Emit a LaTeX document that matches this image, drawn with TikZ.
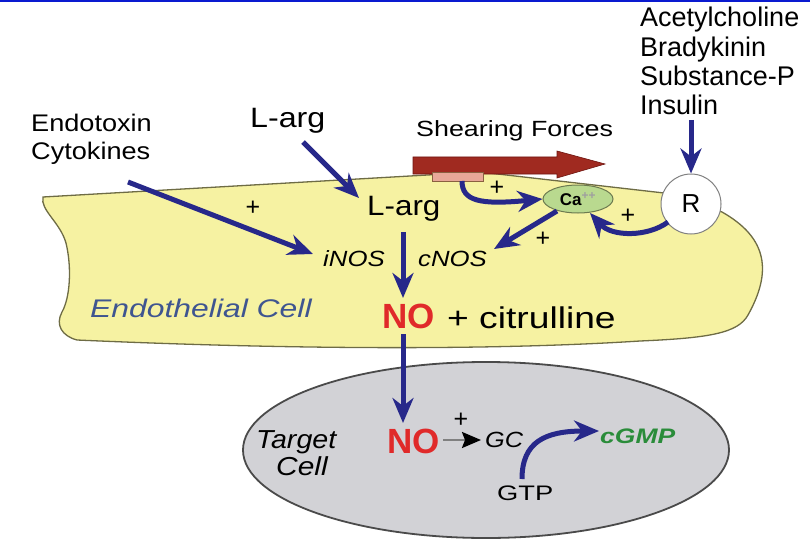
\documentclass[tikz,border=0pt]{standalone}
\usepackage{fontspec}
\setmainfont{Liberation Sans}
\usepackage{graphicx}
\usetikzlibrary{arrows.meta,shapes.geometric}
\newcommand{\fs}[1]{\fontsize{#1}{#1}\selectfont}
\newcommand{\sx}[2]{\scalebox{#1}[1]{#2}}
\definecolor{topblue}{HTML}{0A1AD0}
\definecolor{arrowblue}{HTML}{27288A}
\definecolor{cellyellow}{HTML}{F6F2A2}
\definecolor{cellborder}{HTML}{6E6C45}
\definecolor{targetfill}{HTML}{D2D2D6}
\definecolor{targetborder}{HTML}{4A4A4A}
\definecolor{nored}{HTML}{E02A2A}
\definecolor{cgmpgreen}{HTML}{2A8C3A}
\definecolor{endoblue}{HTML}{3F5590}
\definecolor{cafill}{HTML}{B9D98F}
\definecolor{caborder}{HTML}{6C7A50}
\definecolor{shearred}{HTML}{A02A20}
\definecolor{sheardark}{HTML}{6E1510}
\definecolor{pinkrect}{HTML}{E8A898}
\definecolor{pinkborder}{HTML}{8A6040}
\begin{document}
\begin{tikzpicture}[x=1pt,y=-1pt,
  txt/.style={inner sep=0pt, anchor=base west},
  plus/.style={inner sep=0pt, anchor=center, font=\fs{25}},
  flow/.style={draw=arrowblue, line width=5pt, -{Stealth[length=25pt,width=21pt,inset=8pt]}}]
\useasboundingbox (0,0) rectangle (810,540);
\fill[topblue] (0,0) rectangle (810,2.5);

% target cell
\node[ellipse, draw=targetborder, fill=targetfill, line width=1.8pt,
      minimum width=486pt, minimum height=176pt, inner sep=0pt] (tc) at (486,450) {};

% endothelial cell
\draw[draw=cellborder, fill=cellyellow, line width=1.3pt]
  (43,197) -- (480,172) -- (664,193) -- (722,212)
  .. controls (768,238) and (772,272) .. (748,315)
  .. controls (738,333) and (710,338) .. (640,341)
  .. controls (500,350) and (300,350) .. (77,340)
  .. controls (62,336) and (55,325) .. (62,312)
  .. controls (70,298) and (72,268) .. (66,243)
  .. controls (60,222) and (40,210) .. cycle;

% shearing force arrow
\draw[draw=sheardark, fill=shearred, line width=0.6pt]
  (413,157) -- (557,157) -- (557,151) -- (605,164) -- (557,178) -- (557,174) -- (413,174) -- cycle;
\node[draw=pinkborder, fill=pinkrect, line width=0.8pt, minimum width=51pt, minimum height=9pt, inner sep=0pt] (shear) at (457.5,176.5) {};

% nodes
\node[ellipse, draw=caborder, fill=cafill, line width=1pt, minimum width=70pt, minimum height=28pt, inner sep=0pt] (ca) at (578,199) {\fs{17}\textbf{Ca}\textsuperscript{\color{gray!75}\textbf{++}}};
\node[circle, draw=gray, fill=white, line width=1pt, minimum size=60pt, inner sep=0pt] (R) at (691,204) {\fs{26}R};

\node[txt, font=\fs{27}] (ach) at (640,27) {Acetylcholine};
\node[txt, font=\fs{27}] (bra) at (640,57) {Bradykinin};
\node[txt, font=\fs{27}] (sub) at (640,86) {Substance-P};
\node[txt, font=\fs{27}] (ins) at (640,115) {Insulin};

\node[txt, font=\fs{24}] (endo) at (31,132) {\sx{1.13}{Endotoxin}};
\node[txt, font=\fs{24}] (cyto) at (31,160) {\sx{1.13}{Cytokines}};
\node[txt, font=\fs{28}] (larg1) at (250,128) {\sx{1.15}{L-arg}};
\node[txt, font=\fs{22}] (shf) at (416,137) {\sx{1.22}{Shearing Forces}};
\node[txt, font=\fs{28}] (larg2) at (367,215) {\sx{1.12}{L-arg}};
\node[txt, font=\fs{22}\itshape] (inos) at (323,266) {\sx{1.17}{iNOS}};
\node[txt, font=\fs{22}\itshape] (cnos) at (418,266) {\sx{1.17}{cNOS}};
\node[txt, font=\fs{25.5}\itshape, text=endoblue] (endocell) at (90,317) {\sx{1.25}{Endothelial Cell}};
\node[txt, font=\fs{35}\bfseries, text=nored] (no1) at (382,328) {NO};
\node[txt, font=\fs{30}] (citr) at (447,328) {\sx{1.24}{+ citrulline}};

\node[txt, font=\fs{26}\itshape] (target) at (256,448) {\sx{1.1}{Target}};
\node[txt, font=\fs{26}\itshape] (cell) at (276,475) {\sx{1.15}{Cell}};
\node[txt, font=\fs{35}\bfseries, text=nored] (no2) at (387,453) {NO};
\node[txt, font=\fs{22}\itshape] (gc) at (485,447) {\sx{1.15}{GC}};
\node[txt, font=\fs{21}\bfseries\itshape, text=cgmpgreen] (cgmp) at (600,443) {\sx{1.26}{cGMP}};
\node[txt, font=\fs{21}] (gtp) at (497,500) {\sx{1.3}{GTP}};

% plus signs
\node[plus] (p1) at (253,208) {+};
\node[plus] (p2) at (497,188) {+};
\node[plus] (p3) at (628,216) {+};
\node[plus] (p4) at (543,239) {+};
\node[plus] (p5) at (461,420) {+};

% connectors
\coordinate (endoS) at (128,182);
\coordinate (inosW) at (313,254);
\draw[flow] (endoS) -- (inosW);
\coordinate (larg1S) at (303,142);
\coordinate (larg2W) at (359,198);
\draw[flow] (larg1S) -- (larg2W);
\draw[flow] (403,232) -- (403,298);
\draw[flow] (403,334) -- (403,423);
\draw[flow] (R.north |- 0,120) -- (R.north);
\draw[flow] (462,181) .. controls (462,201) and (480,205) .. (ca.west);
\coordinate (Rout) at (668,222);
\coordinate (caSE) at (590,213);
\draw[flow] (Rout) .. controls (648,237) and (612,237) .. (caSE);
\coordinate (caSW) at (557,211);
\coordinate (cnosE) at (494,249);
\draw[flow] (caSW) -- (cnosE);
\draw[draw=gray, line width=2.4pt, -{Stealth[length=19pt,width=16pt,inset=3pt,color=black]}] (443,440) -- (481,440);
\coordinate (gtpN) at (522,479);
\coordinate (cgmpW) at (599,431);
\draw[flow] (gtpN) .. controls (522,442) and (545,431) .. (cgmpW);
\end{tikzpicture}
\end{document}
